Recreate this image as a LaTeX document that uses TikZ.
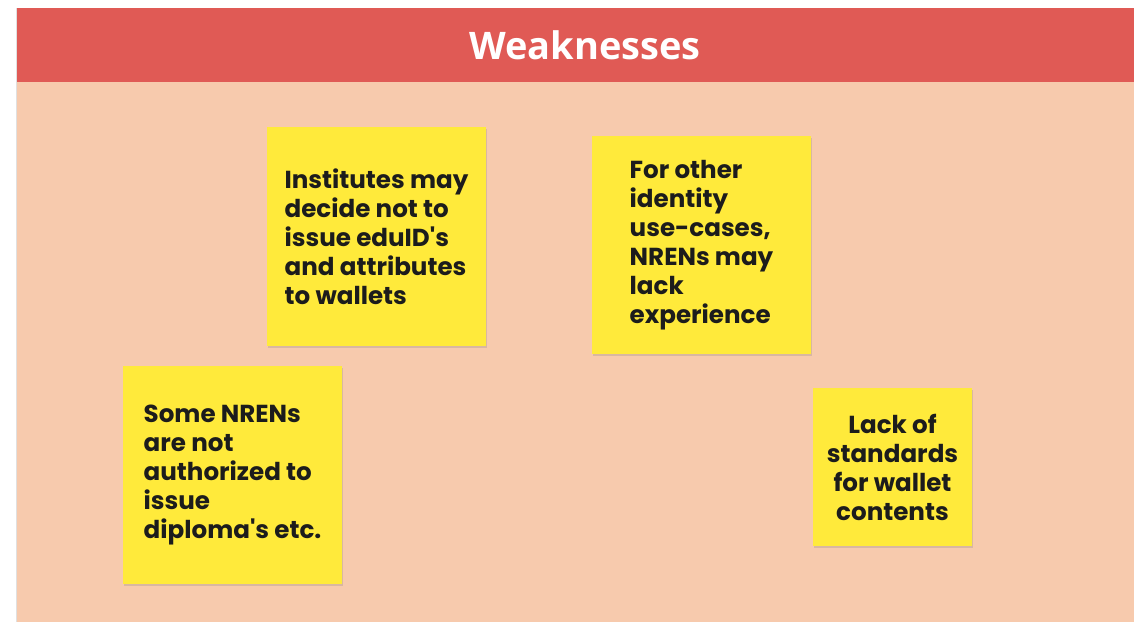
\documentclass[tikz,border=0pt]{standalone}
\usepackage{fontspec}
\setmainfont{Poppins}
\newfontfamily\titlefont{Open Sans}
\usetikzlibrary{shadows}
\definecolor{headred}{HTML}{E05A55}
\definecolor{peach}{HTML}{F7CAAD}
\definecolor{noteyellow}{HTML}{FFEA3B}
\definecolor{notetext}{HTML}{1C1C1C}
\begin{document}
\begin{tikzpicture} [x=0.02cm, y=-0.02cm,
		note/.style={fill=noteyellow, minimum width=4.38cm, minimum height=4.37cm, align=left,
			text=notetext, font=\fontsize{14}{16.5}\selectfont\bfseries,
			drop shadow={opacity=0.25, shadow xshift=0.6pt, shadow yshift=-1.2pt}}]
				\useasboundingbox (0,0) rectangle (1134,622);
				\fill[black!12] (16,8) rectangle (1134,622);
				\fill[peach] (17,8) rectangle (1134,622);
				\fill[headred] (17,8) rectangle (1134,82);
				\node (title) at (585,45) [text=white, font=\titlefont\fontsize{21.6}{24}\selectfont\bfseries] {Weaknesses};
				\node[note] (institutes) at (376.5,236.5) {Institutes may\\decide not to\\issue eduID\textquotesingle s\\and attributes\\to wallets};
				\node[note] (experience) at (701.5,245) {For other\\identity\\use-cases,\\NRENs may\\lack\\experience};
				\node[note] (authorized) at (232.5,475) {Some NRENs\\are not\\authorized to\\issue\\diploma\textquotesingle s etc.};
				\node[note, minimum width=3.18cm, minimum height=3.16cm, align=center] (standards) at (892.5,467) {Lack of\\standards\\for wallet\\contents};
			\end{tikzpicture}
\end{document}
